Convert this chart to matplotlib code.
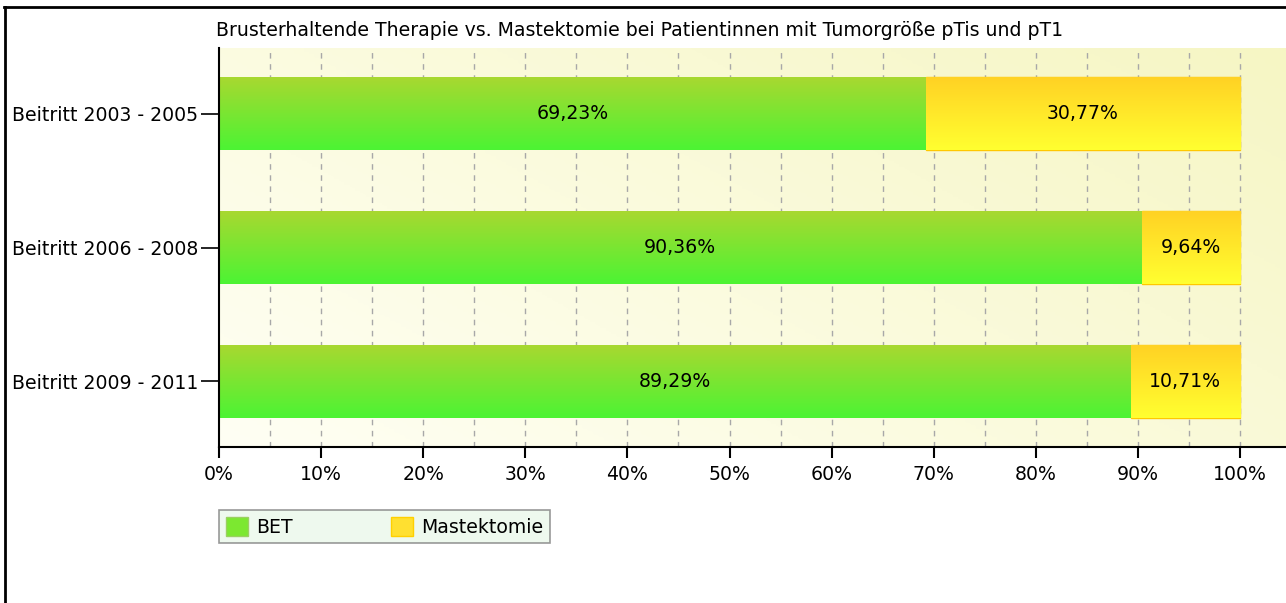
import numpy as np
import matplotlib.pyplot as plt
from matplotlib.colors import LinearSegmentedColormap
from matplotlib.lines import Line2D
from matplotlib.patches import Patch

# Daten
kategorien = ["Beitritt 2003 - 2005", "Beitritt 2006 - 2008", "Beitritt 2009 - 2011"]
bet = [69.23, 90.36, 89.29]
mastektomie = [30.77, 9.64, 10.71]
xticks = [0, 10, 20, 30, 40, 50, 60, 70, 80, 90, 100]
titel = "Brusterhaltende Therapie vs. Mastektomie bei Patientinnen mit Tumorgröße pTis und pT1"

plt.rcParams['font.family'] = ['DejaVu Sans']
FS = 13.6

fig = plt.figure(figsize=(12.86, 6.03), dpi=100)
ax = fig.add_axes([219 / 1286, 156 / 603, 1 - 219 / 1286, (555 - 156) / 603])

xmax = (1286 - 219) / ((1240 - 219) / 100)
ax.set_xlim(0, xmax)
ax.set_ylim(2.49, -0.49)

# Hintergrund-Verlauf (hell gelb oben rechts, fast weiss unten links)
gx, gy = np.meshgrid(np.linspace(0, 1, 200), np.linspace(0, 1, 200))
t = (gx * 0.6 + (1 - gy) * 0.4)
bg_cmap = LinearSegmentedColormap.from_list("bg", ["#fffff4", "#f6f6c4"])
ax.imshow(t, cmap=bg_cmap, extent=(0, xmax, 2.49, -0.49), aspect='auto', zorder=0,
          origin='upper', vmin=0, vmax=1)

# Gitter
for xv in np.arange(5, 101, 5):
    ax.axvline(xv, color='#a8a8a8', lw=1.0, ls=(0, (4, 4)), zorder=1)

y = np.arange(len(kategorien))
h = 0.545
green_cmap = LinearSegmentedColormap.from_list("g", ["#a8d830", "#4cf434"])
yellow_cmap = LinearSegmentedColormap.from_list("y", ["#ffd224", "#ffff30"])

bars_bet = ax.barh(y, bet, height=h, color='#7ce830', edgecolor='none', zorder=2)
bars_mas = ax.barh(y, mastektomie, left=bet, height=h, color='#ffe628',
                   edgecolor='#ffc800', lw=1, zorder=2)

grad = np.linspace(0, 1, 100).reshape(-1, 1)
for bars, cmap in [(bars_bet, green_cmap), (bars_mas, yellow_cmap)]:
    for b in bars:
        x0, y0 = b.get_x(), b.get_y()
        w, hh = b.get_width(), b.get_height()
        im = ax.imshow(grad, cmap=cmap, extent=(x0, x0 + w, y0 + hh, y0), aspect='auto',
                       origin='upper', zorder=2.5)
        im.set_clip_path(b)

for i in range(len(kategorien)):
    ax.text(bet[i] / 2, y[i], f"{bet[i]:.2f}%".replace('.', ','), ha='center', va='center',
            fontsize=FS, color='black', zorder=4)
    ax.text(bet[i] + mastektomie[i] / 2, y[i], f"{mastektomie[i]:.2f}%".replace('.', ','),
            ha='center', va='center', fontsize=FS, color='black', zorder=4)

ax.set_yticks(y)
ax.set_yticklabels(kategorien, fontsize=FS)
ax.set_xticks(xticks)
ax.set_xticklabels([f"{v}%" for v in xticks], fontsize=FS)
ax.tick_params(axis='y', length=13, width=1.2, pad=2)
ax.tick_params(axis='x', length=8, width=1.5, pad=5)

for s in ['top', 'right']:
    ax.spines[s].set_visible(False)
ax.spines['left'].set_linewidth(1.5)
ax.spines['bottom'].set_linewidth(1.5)

fig.text(216 / 1286, 1 - 30 / 603, titel, ha='left', va='center', fontsize=FS)

# Legende
handles = [Patch(facecolor='#7ce830', edgecolor='#9ad060', label='BET'),
           Patch(facecolor='#ffe030', edgecolor='#ffd000', label='Mastektomie')]
leg = fig.legend(handles=handles, loc='upper left', bbox_to_anchor=(219 / 1286, 1 - 510 / 603),
                 ncol=2, fontsize=FS, frameon=True, fancybox=False, columnspacing=5.2,
                 handlelength=1.2, handleheight=1.2, handletextpad=0.4, borderpad=0.35,
                 borderaxespad=0)
leg.get_frame().set_facecolor('#eaf8ea')
leg.get_frame().set_edgecolor('#808080')
leg.get_frame().set_linewidth(1.2)

# Rahmen
fig.add_artist(Line2D([4 / 1286, 1], [1 - 7 / 603, 1 - 7 / 603], color='black', lw=2,
                      transform=fig.transFigure))
fig.add_artist(Line2D([5 / 1286, 5 / 1286], [0, 1 - 7 / 603], color='black', lw=2,
                      transform=fig.transFigure))

fig.savefig("out.png", dpi=100)
